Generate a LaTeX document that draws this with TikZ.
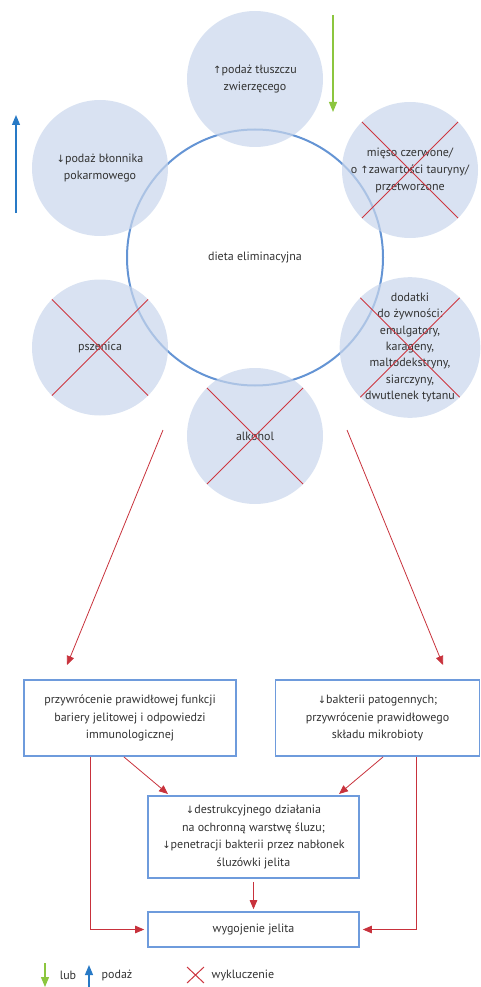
\documentclass[tikz,border=0pt]{standalone}
\usepackage{fontspec}
\setmainfont{PT Sans}
\newfontfamily\arrfont{DejaVu Sans}
\usetikzlibrary{arrows.meta}
\definecolor{cfill}{RGB}{201,214,236}
\definecolor{bigline}{RGB}{100,148,212}
\definecolor{boxline}{RGB}{110,155,220}
\definecolor{xred}{RGB}{205,55,65}
\definecolor{ared}{RGB}{200,50,60}
\definecolor{lgreen}{RGB}{140,198,63}
\definecolor{lblue}{RGB}{40,122,198}
\definecolor{txt}{RGB}{50,50,50}
\newcommand{\mydn}{{\arrfont\fontsize{10}{10}\selectfont ↓}}
\newcommand{\myup}{{\arrfont\fontsize{10}{10}\selectfont ↑}}
\tikzset{
  smallc/.style={circle, fill=cfill, fill opacity=0.7, text opacity=1, minimum size=136pt, inner sep=0pt, outer sep=0pt, align=center, font=\fontsize{12}{17}\selectfont},
  xline/.style={xred, line width=0.8pt},
  boxn/.style={draw=boxline, line width=1.6pt, align=center, inner sep=0pt, font=\fontsize{12}{17.5}\selectfont},
  redarr/.style={ared, line width=0.8pt, -{Triangle[length=9pt,width=7.5pt]}},
  greenarr/.style={lgreen, line width=1.2pt, -{Triangle[length=10pt,width=8pt]}},
  bluearr/.style={lblue, line width=1.2pt, -{Triangle[length=10pt,width=8pt]}}
}
\begin{document}
\begin{tikzpicture}[x=1pt,y=-1pt, text=txt, font=\fontsize{12}{17}\selectfont]
\useasboundingbox (0,0) rectangle (481,987);

% central circle
\node[draw=bigline, line width=2pt, circle, minimum size=256pt, inner sep=0pt] (diet) at (255,257.5) {dieta eliminacyjna};

% surrounding circles
\node[smallc] (fat) at (255,79) {\myup podaż tłuszczu\\zwierzęcego};
\node[smallc] (fib) at (100,168) {\mydn podaż błonnika\\pokarmowego};
\node[smallc] (meat) at (410,170) {mięso czerwone/\\o \myup zawartości tauryny/\\przetworzone};
\node[smallc] (wheat) at (100,347.5) {pszenica};
\node[smallc, font=\fontsize{12}{16.3}\selectfont] (add) at (410,347.5) {dodatki\\do żywności:\\emulgatory,\\karageny,\\maltodekstryny,\\siarczyny,\\dwutlenek tytanu};
\node[smallc] (alc) at (255,436) {alkohol};

% crosses
\foreach \c in {meat,wheat,add,alc}{
  \draw[xline] (\c.north west) -- (\c.south east);
  \draw[xline] (\c.north east) -- (\c.south west);
}

% side arrows
\coordinate (g1) at (333,15);
\coordinate (g2) at (333,112);
\draw[greenarr] (g1) -- (g2);
\coordinate (u1) at (16,213);
\coordinate (u2) at (16,115);
\draw[bluearr] (u1) -- (u2);

% boxes
\node[boxn, minimum width=212pt, minimum height=76pt] (b1) at (130,718) {przywrócenie prawidłowej funkcji\\bariery jelitowej i odpowiedzi\\immunologicznej};
\node[boxn, minimum width=204pt, minimum height=76pt] (b2) at (377.5,718) {\mydn bakterii patogennych;\\przywrócenie prawidłowego\\składu mikrobioty};
\node[boxn, minimum width=211pt, minimum height=82pt] (b3) at (253.5,837) {\mydn destrukcyjnego działania\\na ochronną warstwę śluzu;\\\mydn penetracji bakterii przez nabłonek\\śluzówki jelita};
\node[boxn, minimum width=211pt, minimum height=35pt] (b4) at (253.5,929.5) {wygojenie jelita};

% connectors from diet
\coordinate (l1) at (163,430);
\coordinate (l2) at (67,665);
\draw[redarr] (l1) -- (l2);
\coordinate (r1) at (347,430);
\coordinate (r2) at (443,665);
\draw[redarr] (r1) -- (r2);

% box connectors
\coordinate (a1) at (124,757);
\coordinate (a2) at (168,794);
\draw[redarr] (a1) -- (a2);
\coordinate (a3) at (383,757);
\coordinate (a4) at (339,794);
\draw[redarr] (a3) -- (a4);
\draw[redarr, shorten <=3pt, shorten >=2pt] (b3.south) -- (b4.north);
\coordinate (e1) at (90,757);
\draw[redarr, shorten >=3pt] (e1) |- (b4.west);
\coordinate (e2) at (416,757);
\draw[redarr, shorten >=3pt] (e2) |- (b4.east);

% legend
\coordinate (lg1) at (45,963);
\coordinate (lg2) at (45,987);
\draw[greenarr] (lg1) -- (lg2);
\node (lub) at (68,975) {lub};
\coordinate (lb1) at (89,987);
\coordinate (lb2) at (89,965);
\draw[bluearr] (lb1) -- (lb2);
\node (pod) at (117,975) {podaż};
\coordinate (x1) at (187,967);
\coordinate (x2) at (204,983);
\coordinate (x3) at (204,967);
\coordinate (x4) at (187,983);
\draw[xred, line width=1pt] (x1) -- (x2) (x3) -- (x4);
\node (wyk) at (243,975) {wykluczenie};
\end{tikzpicture}
\end{document}
